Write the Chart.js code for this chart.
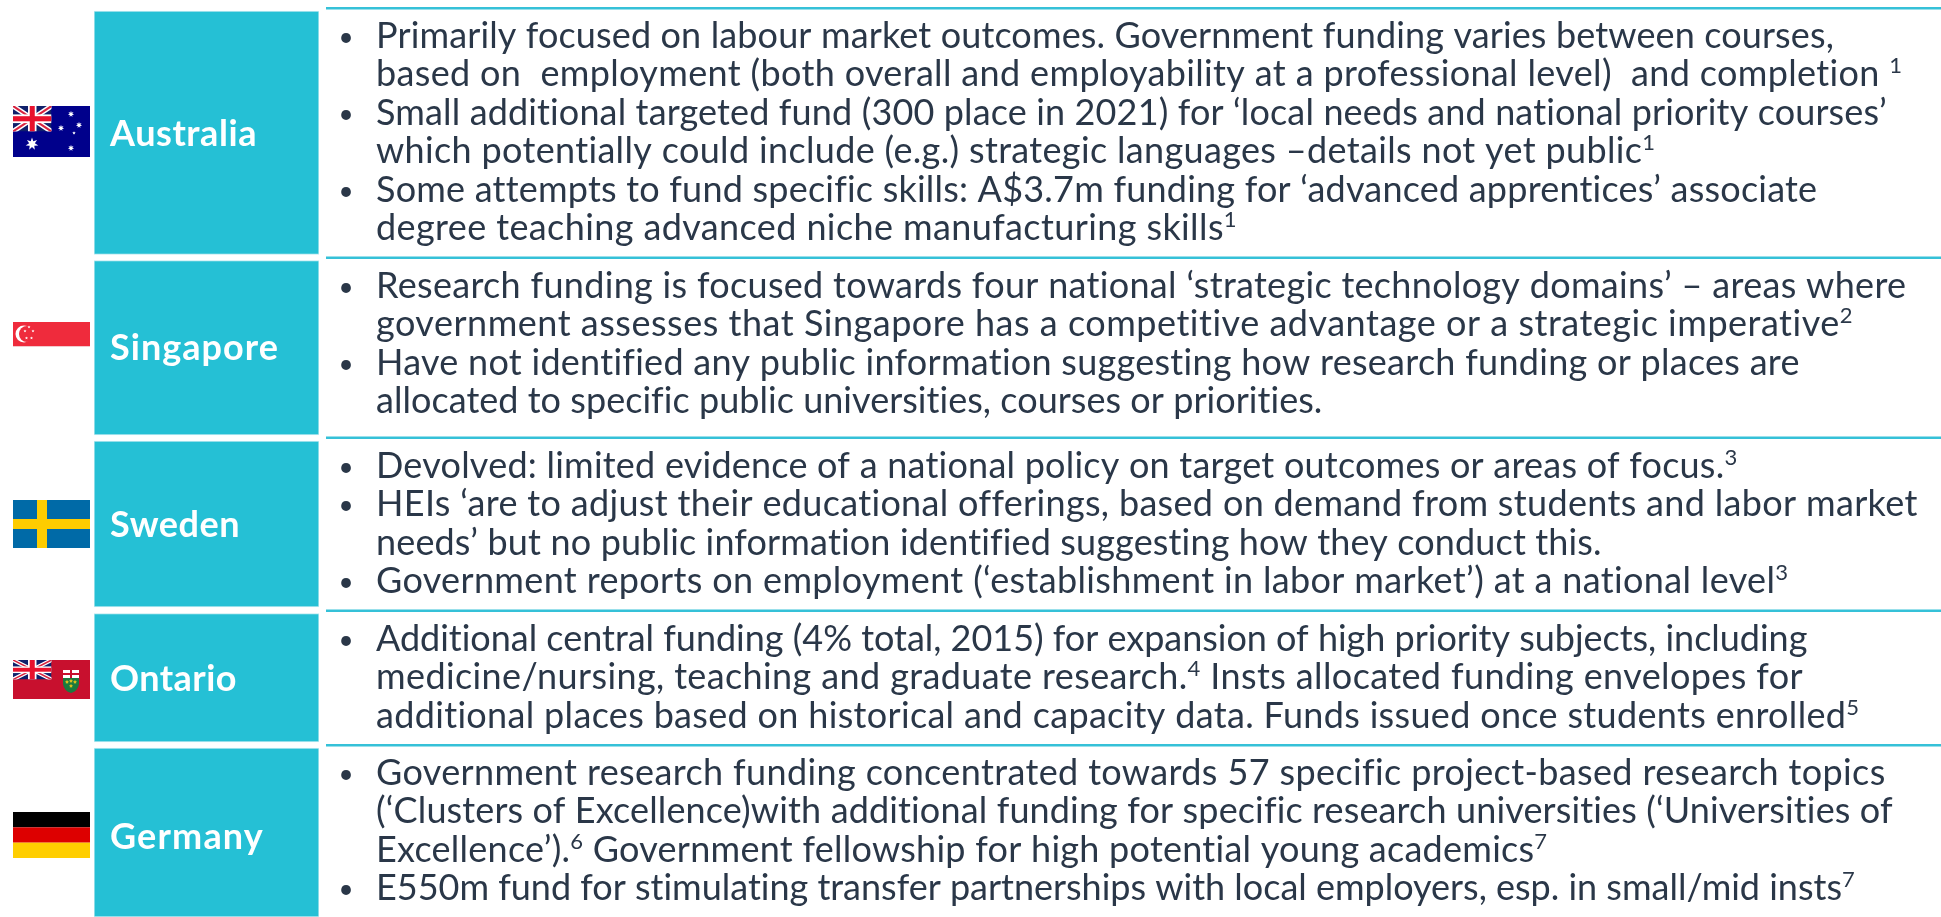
<!DOCTYPE html>
<html>
<head>
<meta charset="utf-8">
<title>Funding focus by country</title>
<script src="https://cdn.jsdelivr.net/npm/chart.js@4/dist/chart.umd.min.js"></script>
<style>
  html, body { margin: 0; padding: 0; background: #fff; overflow: hidden; }
  canvas { display: block; }
</style>
</head>
<body>
<canvas id="panel" width="1941" height="917"></canvas>
<script>
const countries = ['Australia', 'Singapore', 'Sweden', 'Ontario', 'Germany'];
const rowTops = [11, 260.5, 441, 613.5, 748];
const rowBottoms = [254.5, 435, 607, 742, 917];
const ruleStops = [8, 257.5, 437.5, 610.5, 745];

// "- " starts a bullet, ^n is a footnote mark
const australiaLines = [
  '- Primarily focused on labour market outcomes. Government funding varies between courses,',
  'based on  employment (both overall and employability at a professional level)  and completion ^1',
  '- Small additional targeted fund (300 place in 2021) for ‘local needs and national priority courses’',
  'which potentially could include (e.g.) strategic languages –details not yet public^1',
  '- Some attempts to fund specific skills: A$3.7m funding for ‘advanced apprentices’ associate',
  'degree teaching advanced niche manufacturing skills^1'
];
const singaporeLines = [
  '- Research funding is focused towards four national ‘strategic technology domains’ – areas where',
  'government assesses that Singapore has a competitive advantage or a strategic imperative^2',
  '- Have not identified any public information suggesting how research funding or places are',
  'allocated to specific public universities, courses or priorities.'
];
const swedenLines = [
  '- Devolved: limited evidence of a national policy on target outcomes or areas of focus.^3',
  '- HEIs ‘are to adjust their educational offerings, based on demand from students and labor market',
  'needs’ but no public information identified suggesting how they conduct this.',
  '- Government reports on employment (‘establishment in labor market’) at a national level^3'
];
const ontarioLines = [
  '- Additional central funding (4% total, 2015) for expansion of high priority subjects, including',
  'medicine/nursing, teaching and graduate research.^4 Insts allocated funding envelopes for',
  'additional places based on historical and capacity data. Funds issued once students enrolled^5'
];
const germanyLines = [
  '- Government research funding concentrated towards 57 specific project-based research topics',
  '(‘Clusters of Excellence)with additional funding for specific research universities (‘Universities of',
  'Excellence’).^6 Government fellowship for high potential young academics^7',
  '- E550m fund for stimulating transfer partnerships with local employers, esp. in small/mid insts^7'
];
const rowLines = [australiaLines, singaporeLines, swedenLines, ontarioLines, germanyLines];

// layout, in canvas px
const firstBaselines = [48, 298, 478, 651, 785];
const lineGap = 38.4;
const textLeft = 376, bulletCentre = 346;
const lineEnds = [
  [1834, 1903, 1888, 1656, 1816, 1237],
  [1907, 1855, 1801, 1323],
  [1738, 1917, 1603, 1789],
  [1808, 1803, 1860],
  [1885, 1894, 1548, 1856]
];
const nameBaselines = [146, 360, 537, 691, 849];
const nameEnds = [257, 279, 240, 237, 264];
const flagBoxes = [[13, 106, 77, 51], [13, 322, 77, 25], [13, 500, 77, 48], [13, 660, 77, 39], [13, 812, 77, 46]];

const teal = '#25c0d5';
const ink = '#2a3748';
const bodyFont = 'Lato, sans-serif';
const bodySize = 36, noteSize = 22;

// letter spacing that makes a run list finish at the wanted x
function drawRuns(ctx, line, x, y, end) {
  const parts = line.split(/\^(\d)/);
  let plain = 0, chars = 0;
  parts.forEach((p, i) => {
    ctx.letterSpacing = '0px';
    ctx.font = (i % 2 ? noteSize : bodySize) + 'px ' + bodyFont;
    plain += ctx.measureText(p).width;
    chars += p.length;
  });
  const ls = (end - x - plain) / chars;
  ctx.letterSpacing = ls.toFixed(3) + 'px';
  parts.forEach((p, i) => {
    ctx.font = (i % 2 ? noteSize : bodySize) + 'px ' + bodyFont;
    ctx.fillText(p, x, i % 2 ? y - 13 : y);
    x += ctx.measureText(p).width;
  });
  ctx.letterSpacing = '0px';
}

function star(ctx, cx, cy, r, n, inner) {
  ctx.beginPath();
  for (let i = 0; i < n * 2; i++) {
    const a = -Math.PI / 2 + i * Math.PI / n;
    const rr = i % 2 ? r * inner : r;
    ctx.lineTo(cx + Math.cos(a) * rr, cy + Math.sin(a) * rr);
  }
  ctx.closePath();
  ctx.fill();
}

function unionJack(ctx, x, y, w, h) {
  ctx.save();
  ctx.beginPath();
  ctx.rect(x, y, w, h);
  ctx.clip();
  ctx.fillStyle = '#10206b';
  ctx.fillRect(x, y, w, h);
  const diag = (col, lw) => {
    ctx.strokeStyle = col;
    ctx.lineWidth = lw;
    ctx.beginPath();
    ctx.moveTo(x, y); ctx.lineTo(x + w, y + h);
    ctx.moveTo(x + w, y); ctx.lineTo(x, y + h);
    ctx.stroke();
  };
  diag('#fff', h * 0.2);
  diag('#d8233f', h * 0.08);
  ctx.fillStyle = '#fff';
  ctx.fillRect(x + w / 2 - w * 0.11, y, w * 0.22, h);
  ctx.fillRect(x, y + h / 2 - h * 0.17, w, h * 0.34);
  ctx.fillStyle = '#e8112d';
  ctx.fillRect(x + w / 2 - w * 0.065, y, w * 0.13, h);
  ctx.fillRect(x, y + h / 2 - h * 0.1, w, h * 0.2);
  ctx.restore();
}

const flagPainters = [
  (ctx, x, y, w, h) => {
    ctx.fillStyle = '#00008b';
    ctx.fillRect(x, y, w, h);
    unionJack(ctx, x, y, w * 0.5, h * 0.5);
    ctx.fillStyle = '#fff';
    star(ctx, x + 19, y + 38, 6.5, 7, 0.45);
    star(ctx, x + 58, y + 8, 3.2, 7, 0.45);
    star(ctx, x + 66, y + 19, 3.2, 7, 0.45);
    star(ctx, x + 48, y + 22, 3.2, 7, 0.45);
    star(ctx, x + 61, y + 27, 1.8, 5, 0.45);
    star(ctx, x + 58, y + 42, 3.2, 7, 0.45);
  },
  (ctx, x, y, w, h) => {
    ctx.fillStyle = '#ef2b3c';
    ctx.fillRect(x, y, w, h);
    ctx.fillStyle = '#f3c9cc';
    ctx.fillRect(x, y + h - 1, w, 1);
    ctx.fillStyle = '#fff';
    ctx.beginPath();
    ctx.arc(x + 11, y + 12, 8.5, 0, Math.PI * 2);
    ctx.fill();
    ctx.fillStyle = '#ef2b3c';
    ctx.beginPath();
    ctx.arc(x + 14, y + 12, 8, 0, Math.PI * 2);
    ctx.fill();
    ctx.fillStyle = '#fff';
    [[16, 5], [12, 9], [20, 9], [13.5, 16], [18.5, 16]].forEach(p => star(ctx, x + p[0], y + p[1], 1.6, 5, 0.45));
  },
  (ctx, x, y, w, h) => {
    ctx.fillStyle = '#006aa7';
    ctx.fillRect(x, y, w, h);
    ctx.fillStyle = '#fecc00';
    ctx.fillRect(x + 24, y, 10, h);
    ctx.fillRect(x, y + 19, w, 10);
  },
  (ctx, x, y, w, h) => {
    ctx.fillStyle = '#c8102e';
    ctx.fillRect(x, y, w, h);
    unionJack(ctx, x, y, w * 0.5, h * 0.5);
    ctx.fillStyle = '#1b7a3e';
    ctx.beginPath();
    ctx.moveTo(x + 50, y + 12);
    ctx.lineTo(x + 66, y + 12);
    ctx.lineTo(x + 66, y + 24);
    ctx.quadraticCurveTo(x + 65, y + 31, x + 58, y + 33);
    ctx.quadraticCurveTo(x + 51, y + 31, x + 50, y + 24);
    ctx.closePath();
    ctx.fill();
    ctx.fillStyle = '#fff';
    ctx.fillRect(x + 50, y + 10, 16, 8);
    ctx.fillStyle = '#c8102e';
    ctx.fillRect(x + 57, y + 10, 2, 8);
    ctx.fillRect(x + 50, y + 13, 16, 2);
    ctx.fillStyle = '#d8c020';
    [[54, 22], [58, 21], [62, 22], [58, 26]].forEach(p => star(ctx, x + p[0], y + p[1], 2, 5, 0.6));
  },
  (ctx, x, y, w, h) => {
    ['#000', '#dd0000', '#ffce00'].forEach((c, i) => {
      ctx.fillStyle = c;
      ctx.fillRect(x, y + i * h / 3, w, h / 3);
    });
  }
];

const tableText = {
  id: 'tableText',
  afterDraw(chart) {
    const ctx = chart.ctx;
    const yScale = chart.scales.y;
    ctx.save();
    ctx.textBaseline = 'alphabetic';
    ctx.textAlign = 'left';

    // teal rules above each row, on the same y scale as the boxes
    ctx.fillStyle = '#35c1d8';
    ruleStops.forEach(v => {
      ctx.fillRect(chart.chartArea.right + 7, yScale.getPixelForValue(v) - 1, chart.width, 2.5);
    });

    flagBoxes.forEach((b, i) => flagPainters[i](ctx, b[0], b[1], b[2], b[3]));

    countries.forEach((name, i) => {
      ctx.fillStyle = '#fff';
      ctx.font = 'bold 36px ' + bodyFont;
      ctx.letterSpacing = '0px';
      const left = chart.chartArea.left + 16;
      const ls = (nameEnds[i] - left - ctx.measureText(name).width) / name.length;
      ctx.letterSpacing = ls.toFixed(3) + 'px';
      ctx.fillText(name, left, nameBaselines[i]);
      ctx.letterSpacing = '0px';

      ctx.fillStyle = ink;
      rowLines[i].forEach((line, j) => {
        const y = firstBaselines[i] + j * lineGap;
        let body = line;
        if (line.startsWith('- ')) {
          body = line.slice(2);
          ctx.font = '26px ' + bodyFont;
          ctx.textAlign = 'center';
          ctx.fillText('•', bulletCentre, y - 2);
          ctx.textAlign = 'left';
        }
        drawRuns(ctx, body, textLeft, y, lineEnds[i][j]);
      });
    });
    ctx.restore();
  }
};

new Chart(document.getElementById('panel').getContext('2d'), {
  type: 'bar',
  data: {
    labels: ['Country'],
    datasets: countries.map((name, i) => ({
      label: name,
      data: [[rowTops[i], rowBottoms[i]]],
      backgroundColor: teal,
      borderColor: '#bdeaf1',
      borderWidth: 1,
      borderSkipped: false,
      grouped: false,
      barPercentage: 1,
      categoryPercentage: 1
    }))
  },
  options: {
    responsive: false,
    animation: false,
    layout: { padding: { left: 94, right: 1622, top: 0, bottom: 0 } },
    plugins: { legend: { display: false }, tooltip: { enabled: false } },
    scales: {
      x: { display: false },
      y: { display: false, reverse: true, min: 0, max: 917 }
    }
  },
  plugins: [tableText]
});
</script>
</body>
</html>
